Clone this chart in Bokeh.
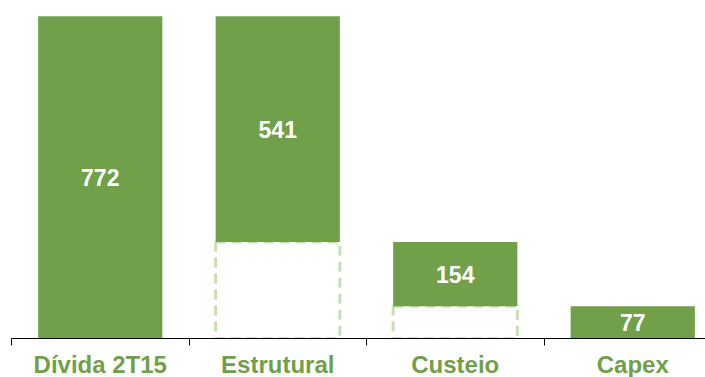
from bokeh.plotting import figure
from bokeh.models import ColumnDataSource, FixedTicker, Range1d
from bokeh.core.properties import value
from bokeh.embed import file_html
from bokeh.resources import INLINE

categories = ["Dívida 2T15", "Estrutural", "Custeio", "Capex"]
values = [772, 541, 154, 77]

# waterfall geometry derived from values
tops, bottoms = [], []
level = 0
for i, v in enumerate(values):
    if i == 0:
        bottoms.append(0)
        tops.append(v)
        level = v
    else:
        tops.append(level)
        level = level - v
        bottoms.append(level)

xs = [i + 0.5 for i in range(len(categories))]
src = ColumnDataSource(dict(
    x=xs, top=tops, bottom=bottoms,
    mid=[(t + b) / 2 for t, b in zip(tops, bottoms)],
    label=[str(v) for v in values],
))
ghost = ColumnDataSource(dict(
    x=[x for x, b in zip(xs, bottoms) if b > 0],
    top=[b for b in bottoms if b > 0],
))

GREEN = "#70A14A"
LIGHT = "#C6DFB4"

p = figure(width=705, height=377, frame_width=694, frame_height=338,
           output_backend="svg", toolbar_location=None,
           x_range=Range1d(0, 694 / 177.5), y_range=Range1d(0, 810),
           min_border_left=11, min_border_right=0, min_border_top=0,
           min_border_bottom=0)
p.outline_line_color = None
p.xgrid.visible = False
p.ygrid.visible = False
p.yaxis.visible = False
p.background_fill_color = "white"
p.border_fill_color = "white"

p.vbar(x="x", top="top", bottom=0, width=0.70, source=ghost,
       fill_color=None, line_color=LIGHT, line_width=3, line_dash="10 6")
p.vbar(x="x", top="top", bottom="bottom", width=0.70, source=src,
       fill_color=GREEN, line_color=None)
p.text(x="x", y="mid", text="label", source=src, text_color="white",
       text_font=value("Liberation Sans"), text_font_style="bold",
       text_font_size="23px", text_align="center", text_baseline="middle")

ax = p.xaxis[0]
ax.ticker = FixedTicker(ticks=xs, minor_ticks=list(range(len(categories))))
ax.major_label_overrides = {x: c for x, c in zip(xs, categories)}
ax.major_tick_line_color = None
ax.major_tick_out = 0
ax.major_tick_in = 0
ax.minor_tick_out = 7
ax.minor_tick_in = 0
ax.minor_tick_line_color = "black"
ax.axis_line_color = "black"
ax.axis_line_width = 1
ax.major_label_text_font = "Liberation Sans"
ax.major_label_text_font_style = "bold"
ax.major_label_text_font_size = "24px"
ax.major_label_text_color = GREEN
ax.major_label_standoff = 5

open("out.html", "w").write(file_html(p, INLINE))
